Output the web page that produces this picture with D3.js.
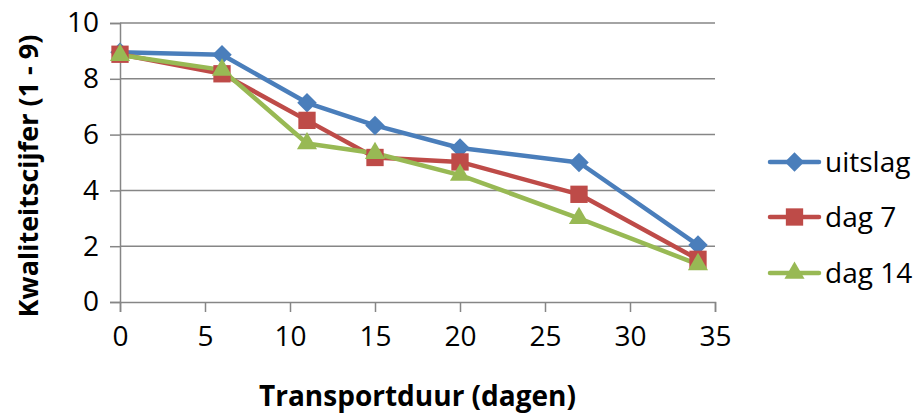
<!DOCTYPE html>
<html>
<head>
<meta charset="utf-8">
<script src="https://cdn.jsdelivr.net/npm/d3@7"></script>
<style>
  body { margin: 0; background: #fff; }
  text { font-family: "Open Sans", Lato, sans-serif; fill: #000; }
</style>
</head>
<body>
<div id="chart"></div>
<script>
// transport duration (days)
const days = [0, 6, 11, 15, 20, 27, 34];
const seriesNames = ["uitslag", "dag 7", "dag 14"];
const uitslag = [8.95, 8.86, 7.14, 6.33, 5.52, 5.0, 2.04];
const dag7 = [8.88, 8.18, 6.51, 5.18, 5.02, 3.86, 1.53];
const dag14 = [8.85, 8.32, 5.68, 5.33, 4.55, 3.0, 1.35];
const xTicks = [0, 5, 10, 15, 20, 25, 30, 35];
const yTicks = [0, 2, 4, 6, 8, 10];

const colors = ["#4a7ebb", "#be4b48", "#98b954"];
// diamond = square turned 45 degrees
const symbols = [d3.symbolSquare, d3.symbolSquare, d3.symbolTriangle];
const symSize = [190, 300, 175];
const symRot = [45, 0, 0];
const values = [uitslag, dag7, dag14];

const width = 920, height = 414;
const margin = {top: 23, right: 205, bottom: 112, left: 120};
const w = width - margin.left - margin.right;
const h = height - margin.top - margin.bottom;

const svg = d3.select("#chart").append("svg")
    .attr("width", width)
    .attr("height", height);

const g = svg.append("g")
    .attr("transform", `translate(${margin.left},${margin.top})`);

const x = d3.scaleLinear().domain([0, 35]).range([0, w]);
const y = d3.scaleLinear().domain([0, 10]).range([h, 0]);

// gridlines
g.selectAll(".grid").data(yTicks.filter(d => d > 0)).enter().append("line")
    .attr("x1", 0).attr("x2", w)
    .attr("y1", d => y(d)).attr("y2", d => y(d))
    .attr("stroke", "#868686").attr("stroke-width", 1.5);

const xAxis = g.append("g")
    .attr("transform", `translate(0,${h})`)
    .call(d3.axisBottom(x).tickValues(xTicks).tickSize(10).tickPadding(10));

const yAxis = g.append("g")
    .call(d3.axisLeft(y).tickValues(yTicks).tickSize(10).tickPadding(11));

[xAxis, yAxis].forEach(a => {
    a.selectAll("path, line").attr("stroke", "#868686").attr("stroke-width", 1.5);
    a.selectAll("text").style("font-size", "28px").attr("fill", "#000");
});
xAxis.selectAll("text").attr("dy", "0.85em");

// lines and markers
const line = d3.line().x((d, i) => x(days[i])).y(d => y(d));

values.forEach((vals, k) => {
    g.append("path")
        .datum(vals)
        .attr("fill", "none")
        .attr("stroke", colors[k])
        .attr("stroke-width", 4.5)
        .attr("stroke-linejoin", "round")
        .attr("d", line);
});

values.forEach((vals, k) => {
    g.selectAll(".m" + k).data(vals).enter().append("path")
        .attr("transform", (d, i) => `translate(${x(days[i])},${y(d)}) rotate(${symRot[k]})`)
        .attr("d", d3.symbol().type(symbols[k]).size(symSize[k]))
        .attr("fill", colors[k]);
});

// axis titles
svg.append("text")
    .attr("x", margin.left + w / 2)
    .attr("y", 406)
    .attr("text-anchor", "middle")
    .style("font-size", "28px")
    .style("font-weight", "bold")
    .text("Transportduur (dagen)");

svg.append("text")
    .attr("transform", `translate(38,176) rotate(-90)`)
    .attr("text-anchor", "middle")
    .style("font-size", "27px")
    .style("font-weight", "bold")
    .text("Kwaliteitscijfer (1 - 9)");

// legend
const legendY = [162, 217, 273];
const legend = svg.append("g");
seriesNames.forEach((name, k) => {
    const row = legend.append("g").attr("transform", `translate(770,${legendY[k]})`);
    row.append("line")
        .attr("x1", 0).attr("x2", 49)
        .attr("stroke", colors[k]).attr("stroke-width", 4.5)
        .attr("stroke-linecap", "round");
    row.append("path")
        .attr("transform", `translate(24.5,0) rotate(${symRot[k]})`)
        .attr("d", d3.symbol().type(symbols[k]).size(symSize[k]))
        .attr("fill", colors[k]);
    row.append("text")
        .attr("x", 55)
        .attr("dy", "0.35em")
        .style("font-size", "28px")
        .text(name);
});
</script>
</body>
</html>
